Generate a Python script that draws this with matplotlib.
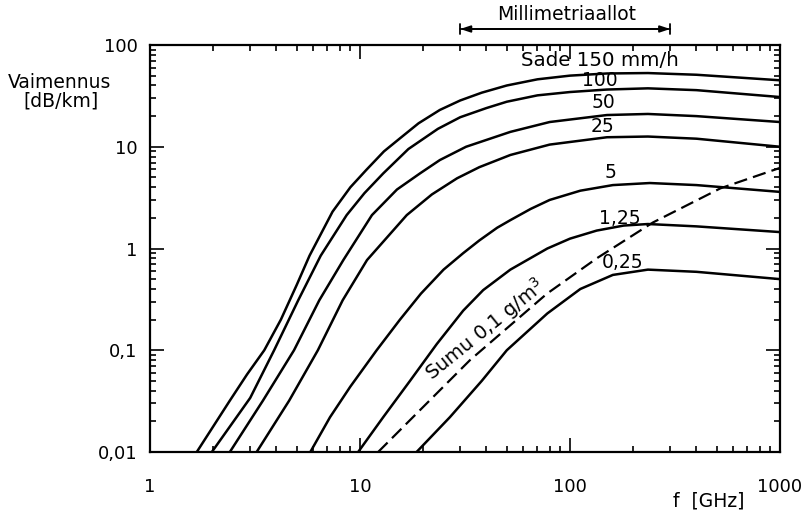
import matplotlib
matplotlib.use("Agg")
import matplotlib.pyplot as plt
from matplotlib.ticker import FixedLocator, FixedFormatter, LogLocator, NullFormatter

# ---- data ----
x_ticks = [1, 10, 100, 1000]
x_tick_labels = ["1", "10", "100", "1000"]
y_ticks = [0.01, 0.1, 1, 10, 100]
y_tick_labels = ["0,01", "0,1", "1", "10", "100"]

rain_labels = ["Sade 150 mm/h", "100", "50", "25", "5", "1,25", "0,25"]

f_150 = [1.67, 2.4, 2.9, 3.5, 4.2, 5.0, 5.75, 7.4, 9, 10.7, 13, 15.5, 19, 24, 30, 38, 50, 70, 100, 150, 235, 400, 1000]
a_150 = [0.01, 0.032, 0.058, 0.1, 0.2, 0.44, 0.85, 2.3, 4.0, 5.9, 9.0, 12.1, 17, 23, 28.5, 34, 40, 46, 50, 52.5, 53, 51, 45]

f_100 = [1.97, 3.0, 3.9, 5.08, 6.5, 8.64, 10.5, 12.9, 17, 23.5, 30, 40, 50, 70, 100, 150, 235, 400, 1000]
a_100 = [0.01, 0.034, 0.1, 0.31, 0.85, 2.13, 3.5, 5.47, 9.5, 15, 19.5, 24, 27.7, 32, 34.5, 36.5, 37.5, 36, 30.8]

f_50 = [2.4, 3.45, 4.85, 6.4, 8.33, 11.4, 15, 19.3, 24, 32, 52, 80, 150, 235, 400, 1000]
a_50 = [0.01, 0.032, 0.1, 0.31, 0.77, 2.13, 3.8, 5.47, 7.4, 10, 14, 17.5, 20.5, 21, 20, 17.5]

f_25 = [3.22, 4.6, 6.3, 8.27, 10.8, 16.7, 22, 29, 37, 52, 80, 150, 235, 400, 1000]
a_25 = [0.01, 0.032, 0.1, 0.31, 0.77, 2.13, 3.4, 4.9, 6.3, 8.3, 10.5, 12.4, 12.6, 12, 10]

f_5 = [5.8, 7.2, 9.0, 12, 15.5, 19.5, 25, 31, 37, 45, 52, 65, 80, 112, 160, 240, 400, 1000]
a_5 = [0.01, 0.022, 0.044, 0.1, 0.2, 0.36, 0.62, 0.9, 1.2, 1.6, 1.9, 2.45, 3.0, 3.7, 4.2, 4.4, 4.2, 3.6]

f_125 = [9.8, 12.9, 17.3, 23.2, 31, 38.6, 52, 78, 100, 134, 180, 235, 400, 1000]
a_125 = [0.01, 0.022, 0.05, 0.115, 0.245, 0.39, 0.62, 1.0, 1.25, 1.5, 1.68, 1.74, 1.65, 1.45]

f_025 = [18.6, 26.8, 38, 50, 78, 112, 160, 235, 400, 1000]
a_025 = [0.01, 0.022, 0.05, 0.1, 0.23, 0.4, 0.55, 0.62, 0.59, 0.5]

f_fog = [12.2, 33.4, 77.7, 134, 248, 520, 1000]
a_fog = [0.01, 0.08, 0.36, 0.8, 1.8, 3.9, 6.2]

mmwave_band = [30, 300]

# ---- figure ----
W, H = 805, 516
fig = plt.figure(figsize=(W / 100, H / 100), dpi=100)
L, R, T, B = 150, 780, 45, 452
ax = fig.add_axes([L / W, 1 - B / H, (R - L) / W, (B - T) / H])

FS = 13
FT = 13.5
lw = 1.8
rain_f = [f_150, f_100, f_50, f_25, f_5, f_125, f_025]
rain_a = [a_150, a_100, a_50, a_25, a_5, a_125, a_025]
for fx, ay in zip(rain_f, rain_a):
    ax.plot(fx, ay, color="black", lw=lw, solid_capstyle="butt", solid_joinstyle="round")
ax.plot(f_fog, a_fog, color="black", lw=1.6, dashes=(6, 2.8))

ax.set_xscale("log")
ax.set_yscale("log")
ax.set_xlim(1, 1000)
ax.set_ylim(0.01, 100)

ax.xaxis.set_major_locator(FixedLocator(x_ticks))
ax.xaxis.set_major_formatter(FixedFormatter(x_tick_labels))
ax.yaxis.set_major_locator(FixedLocator(y_ticks))
ax.yaxis.set_major_formatter(FixedFormatter(y_tick_labels))
ax.xaxis.set_minor_locator(LogLocator(base=10, subs=range(2, 10)))
ax.yaxis.set_minor_locator(LogLocator(base=10, subs=range(2, 10)))
ax.xaxis.set_minor_formatter(NullFormatter())
ax.yaxis.set_minor_formatter(NullFormatter())

ax.tick_params(which="both", direction="in", top=True, right=True,
               colors="black", labelsize=FS, width=1.2)
ax.tick_params(which="major", length=10)
ax.tick_params(which="minor", length=4)
ax.tick_params(axis="x", which="major", pad=19)
ax.tick_params(axis="y", which="major", pad=9)
for s in ax.spines.values():
    s.set_linewidth(1.6)
    s.set_color("black")

# axis titles
fig.text(60 / W, 1 - 82 / H, "Vaimennus", ha="center", va="center", fontsize=FT)
fig.text(61 / W, 1 - 101 / H, "[dB/km]", ha="center", va="center", fontsize=FT)
fig.text(744 / W, 1 - 501 / H, "f  [GHz]", ha="right", va="center", fontsize=FT)

# curve labels (axes-fraction placement)
def axf(px, py):
    return ((px - L) / (R - L), (B - py) / (B - T))

label_pos = [(600, 60), (600, 80), (603, 102), (603, 127), (611, 172), (620, 218), (623, 262)]
for i, (txt, (px, py)) in enumerate(zip(rain_labels, label_pos)):
    ax.text(*axf(px, py), txt, transform=ax.transAxes, ha="center", va="center",
            fontsize=FT + (0.8 if i == 0 else 0))

ax.text(*axf(485, 330), "Sumu 0,1 g/m$^3$", transform=ax.transAxes, ha="center",
        va="center", rotation=39, rotation_mode="anchor", fontsize=FT + 0.5)

# millimetre wave band arrow
yb = (B - 29) / (B - T)
trans = ax.get_xaxis_transform()
ax.annotate("", xy=(mmwave_band[0], yb), xytext=(mmwave_band[1], yb), xycoords=trans,
            textcoords=trans, annotation_clip=False,
            arrowprops=dict(arrowstyle="<|-|>,head_length=0.6,head_width=0.2",
                            color="black", lw=1.3, shrinkA=0, shrinkB=0))
ax.annotate("", xy=(mmwave_band[0], yb), xytext=(mmwave_band[1], yb), xycoords=trans,
            textcoords=trans, annotation_clip=False,
            arrowprops=dict(arrowstyle="|-|,widthA=0.35,widthB=0.35",
                            color="black", lw=1.3, shrinkA=0, shrinkB=0))
fig.text(567 / W, 1 - 14 / H, "Millimetriaallot", ha="center", va="center", fontsize=FT)

fig.savefig("out.png", dpi=100, facecolor="white")
